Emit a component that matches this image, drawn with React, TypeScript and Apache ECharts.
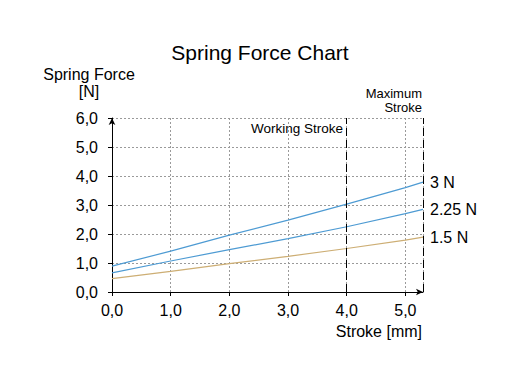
import React, { useEffect, useRef } from "react";
import * as echarts from "echarts";

const strokeX = [0, 1, 2, 3, 4, 5, 5.3];
const force3N = [0.89, 1.41, 1.96, 2.48, 3.03, 3.6, 3.79];
const force225N = [0.66, 1.07, 1.46, 1.84, 2.25, 2.7, 2.85];
const force15N = [0.46, 0.71, 0.98, 1.23, 1.5, 1.79, 1.89];
const seriesNames = ["3 N", "2.25 N", "1.5 N"];
const seriesColors = ["#4e9bd3", "#4e9bd3", "#cdae74"];
const workingStroke = 4;
const maxStroke = 5.3;

const FONT = "'Liberation Sans', Arial, sans-serif";
const fmt = (v: number) => v.toFixed(1).replace(".", ",");

export default function App() {
  const ref = useRef<HTMLDivElement>(null);
  useEffect(() => {
    if (!ref.current) return;
    const chart = echarts.init(ref.current, undefined, { renderer: "svg" });
    const all = [force3N, force225N, force15N];
    const gridL = 112, gridT = 118, gridR = 97, gridB = 95;
    chart.setOption({
      animation: false,
      backgroundColor: "#fff",
      title: {
        text: "Spring Force Chart",
        left: "center",
        top: 37,
        textStyle: { fontFamily: FONT, fontSize: 21, fontWeight: "normal", color: "#000" },
      },
      grid: { left: gridL, top: gridT, right: gridR, bottom: gridB },
      xAxis: {
        type: "value",
        min: 0,
        max: maxStroke,
        interval: 1,
        axisLine: { lineStyle: { color: "#000", width: 1 }, symbol: ["none", "arrow"], symbolSize: [5, 7] },
        axisTick: { show: true, length: 4, lineStyle: { color: "#000" } },
        axisLabel: { showMaxLabel: false, formatter: (v: number) => fmt(v), color: "#000", fontFamily: FONT, fontSize: 16, margin: 10 },
        splitLine: { show: true, lineStyle: { color: "#9a9a9a", type: [2, 2], width: 1 } },
      },
      yAxis: {
        type: "value",
        min: 0,
        max: 6,
        interval: 1,
        axisLine: { show: true, lineStyle: { color: "#000", width: 1 }, symbol: ["none", "arrow"], symbolSize: [5, 7] },
        axisTick: { show: true, length: 4, lineStyle: { color: "#000" } },
        axisLabel: { formatter: (v: number) => fmt(v), color: "#000", fontFamily: FONT, fontSize: 16, margin: 14 },
        splitLine: { show: true, lineStyle: { color: "#9a9a9a", type: [2, 2], width: 1 } },
      },
      graphic: [
        { type: "text", x: 89, y: 74, style: { text: "Spring Force", fontFamily: FONT, fontSize: 16, fill: "#000", align: "center", verticalAlign: "middle" } },
        { type: "text", x: 89, y: 91, style: { text: "[N]", fontFamily: FONT, fontSize: 16, fill: "#000", align: "center", verticalAlign: "middle" } },
        { type: "text", x: 422, y: 331, style: { text: "Stroke [mm]", fontFamily: FONT, fontSize: 16, fill: "#000", align: "right", verticalAlign: "middle" } },
        { type: "text", x: 343, y: 128, style: { text: "Working Stroke", fontFamily: FONT, fontSize: 13.5, fill: "#000", align: "right", verticalAlign: "middle" } },
        { type: "text", x: 422, y: 100, style: { text: "Maximum\nStroke", fontFamily: FONT, fontSize: 13, lineHeight: 14, fill: "#000", align: "right", verticalAlign: "middle" } },
      ],
      series: all.map((vals, i) => ({
        type: "line",
        name: seriesNames[i],
        data: strokeX.map((x, j) => [x, vals[j]]),
        showSymbol: false,
        smooth: false,
        lineStyle: { color: seriesColors[i], width: 1.2 },
        itemStyle: { color: seriesColors[i] },
        endLabel: {
          show: true,
          formatter: seriesNames[i],
          color: "#000",
          fontFamily: FONT,
          fontSize: 16,
          distance: 7,
        },
        markLine:
          i === 0
            ? {
                silent: true,
                symbol: "none",
                label: { show: false },
                lineStyle: { color: "#000", type: [8, 4], width: 1 },
                data: [{ xAxis: workingStroke }, { xAxis: maxStroke }],
              }
            : undefined,
        z: 3,
      })),
    });
    return () => chart.dispose();
  }, []);
  return (
    <div ref={ref} style={{ position: "absolute", left: 0, top: 0, width: 520, height: 387 }} />
  );
}
